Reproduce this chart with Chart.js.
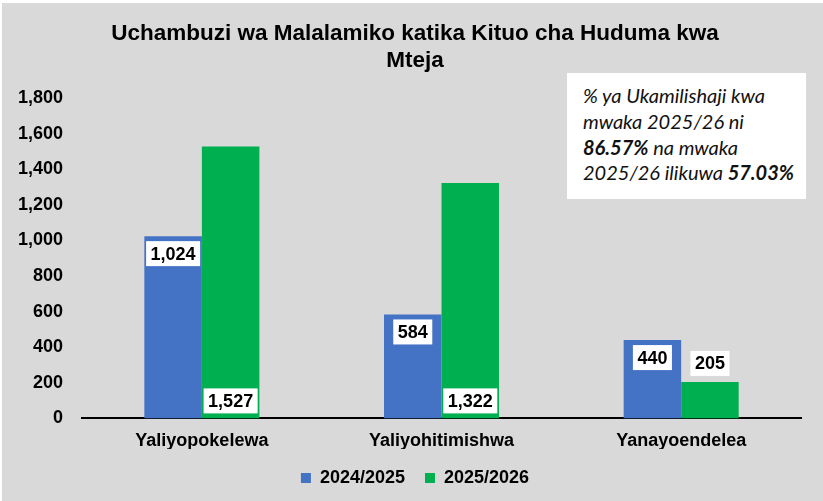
<!DOCTYPE html>
<html>
<head>
<meta charset="utf-8">
<script src="https://cdn.jsdelivr.net/npm/chart.js@4"></script>
<style>
  html, body { margin: 0; padding: 0; background: #fff; }
  #wrap { position: absolute; left: 2px; top: 3px; width: 821px; height: 498px; background: #d9d9d9; }
  #note {
    position: absolute; left: 565px; top: 70px; width: 239px; height: 126px;
    background: #fff; box-sizing: border-box; padding: 10px 0 0 16px;
    font-family: Lato, "Open Sans", sans-serif; font-style: italic; font-size: 20px;
    line-height: 25.8px; color: #111; white-space: nowrap;
  }
</style>
</head>
<body>
<div id="wrap">
  <canvas id="chart" width="821" height="498"></canvas>
  <div id="note">% ya Ukamilishaji kwa<br>mwaka 2025/26 ni<br><b>86.57%</b> na mwaka<br>2025/26 ilikuwa <b>57.03%</b></div>
</div>
<script>
// categories and series
const categories = ["Yaliyopokelewa", "Yaliyohitimishwa", "Yanayoendelea"];
const seriesNames = ["2024/2025", "2025/2026"];
const values2425 = [1024, 584, 440];
const values2526 = [1527, 1322, 205];
const yMax = 1800;
const yStep = 200;

// where each value label sits on its bar
const labelSpots = [
  ["end", "end", "end"],
  ["base", "base", "outside"],
];

const labelFont = "bold 18px 'Liberation Sans', Arial, sans-serif";

// draw white boxed value labels
const valueLabels = {
  id: "valueLabels",
  afterDatasetsDraw(chart) {
    const ctx = chart.ctx;
    ctx.save();
    ctx.font = labelFont;
    ctx.textAlign = "center";
    ctx.textBaseline = "middle";
    chart.data.datasets.forEach((ds, i) => {
      const meta = chart.getDatasetMeta(i);
      meta.data.forEach((bar, j) => {
        const txt = ds.data[j].toLocaleString("en-US");
        const w = ctx.measureText(txt).width + 9;
        const h = 25;
        let top;
        const spot = labelSpots[i][j];
        if (spot == "end") top = bar.y + 5;
        else if (spot == "base") top = bar.base - 5 - h;
        else top = bar.y - 6 - h;
        ctx.fillStyle = "#fff";
        ctx.fillRect(bar.x - w / 2, top, w, h);
        ctx.fillStyle = "#000";
        ctx.fillText(txt, bar.x, top + h / 2 + 1);
      });
    });
    ctx.restore();
  },
};

Chart.defaults.font.family = "'Liberation Sans', Arial, sans-serif";
Chart.defaults.color = "#000";

new Chart("chart", {
  type: "bar",
  data: {
    labels: categories,
    datasets: [
      {
        label: seriesNames[0],
        data: values2425,
        backgroundColor: "#4472c4",
      },
      {
        label: seriesNames[1],
        data: values2526,
        backgroundColor: "#00b050",
      },
    ],
  },
  options: {
    responsive: false,
    animation: false,
    categoryPercentage: 0.48,
    barPercentage: 1,
    layout: {
      padding: { left: 5, right: 0, top: 0, bottom: 4 },
    },
    plugins: {
      title: {
        display: true,
        text: ["Uchambuzi wa Malalamiko katika Kituo cha Huduma kwa", "Mteja"],
        font: { size: 22.5, weight: "bold" },
        color: "#000",
        lineHeight: 1.23,
        padding: { top: 17, bottom: 24 },
      },
      legend: {
        position: "bottom",
        labels: {
          boxWidth: 10,
          boxHeight: 10,
          padding: 20,
          font: { size: 18, weight: "bold" },
        },
      },
      tooltip: { enabled: false },
    },
    scales: {
      x: {
        grid: { color: "transparent", drawTicks: false },
        border: { display: true, color: "#000", width: 2 },
        ticks: { font: { size: 18, weight: "bold" }, padding: 12 },
        afterFit: (scale) => {
          scale.height -= 15;
        },
      },
      y: {
        min: 0,
        max: yMax,
        grid: { display: false },
        border: { display: false },
        ticks: {
          stepSize: yStep,
          font: { size: 18, weight: "bold" },
          padding: 11,
        },
      },
      // empty right axis, only keeps room on the right of the plot
      y2: {
        position: "right",
        grid: { display: false },
        border: { display: false },
        ticks: { display: false },
        afterFit: (scale) => {
          scale.width = 22;
        },
      },
    },
  },
  plugins: [valueLabels],
});
</script>
</body>
</html>
